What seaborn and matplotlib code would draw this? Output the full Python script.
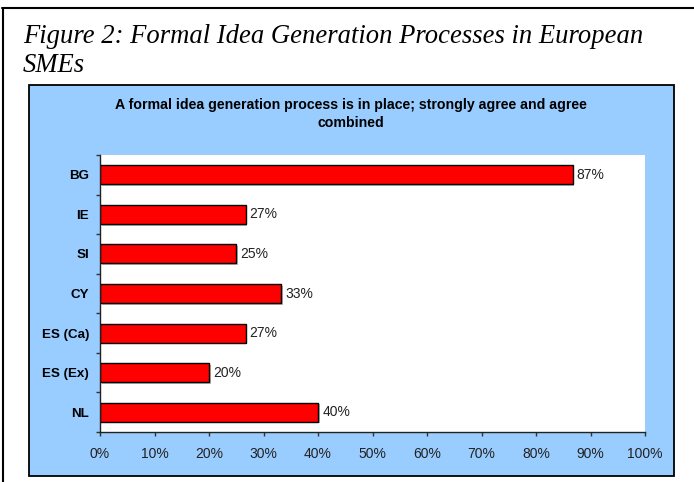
import matplotlib
matplotlib.use('Agg')
import matplotlib.pyplot as plt
import matplotlib.patheffects as pe
import seaborn as sns
import pandas as pd
from matplotlib.patches import Rectangle
from matplotlib.lines import Line2D
from matplotlib.ticker import FixedLocator

# ---- data ----
categories = ['BG', 'IE', 'SI', 'CY', 'ES (Ca)', 'ES (Ex)', 'NL']
values = [86.7, 26.7, 25.0, 33.3, 26.7, 20.0, 40.0]
x_ticks = [0, 10, 20, 30, 40, 50, 60, 70, 80, 90, 100]
x_tick_labels = [f"{t}%" for t in x_ticks]
value_labels = [f"{round(v)}%" for v in values]
fig_title_lines = ["Figure 2: Formal Idea Generation Processes in European", "SMEs"]
chart_title_lines = ["A formal idea generation process is in place; strongly agree and agree",
                     "combined"]

sns.set_theme(style='white')
plt.rcParams['font.family'] = ['Liberation Sans', 'DejaVu Sans']

W, H = 694, 482
fig = plt.figure(figsize=(6.94, 4.82), dpi=100)
fig.patch.set_facecolor('white')


def fx(x):
    return x / W


def fy(y):
    return 1 - y / H


# blue chart panel
fig.add_artist(Rectangle((fx(29), fy(476)), (674 - 29) / W, (476 - 85) / H,
                         facecolor='#99CCFF', edgecolor='black', linewidth=1.3,
                         transform=fig.transFigure, zorder=-2))
# outer frame (left and top)
fig.add_artist(Line2D([fx(2.5), fx(2.5)], [fy(8), 0], color='black', lw=1.5,
                      transform=fig.transFigure, zorder=-2))
fig.add_artist(Line2D([fx(2), 1], [fy(8), fy(8)], color='black', lw=1.5,
                      transform=fig.transFigure, zorder=-2))

# figure title
serif = ['Liberation Serif', 'DejaVu Serif']
fig.text(fx(23), fy(43), fig_title_lines[0], family=serif,
         style='italic', fontsize=19.2, ha='left', va='baseline', color='black')
fig.text(fx(23), fy(72), fig_title_lines[1], family=serif,
         style='italic', fontsize=19.2, ha='left', va='baseline', color='black')

# chart title
fig.text(fx(351), fy(105), chart_title_lines[0], fontsize=10.2, fontweight='bold',
         ha='center', va='center', color='black')
fig.text(fx(351), fy(123), chart_title_lines[1], fontsize=10.2, fontweight='bold',
         ha='center', va='center', color='black')

# plot area
ax = fig.add_axes([fx(100), fy(432), 545 / W, (432 - 155) / H])
ax.set_facecolor('white')
df = pd.DataFrame({'country': categories, 'value': values})
sns.barplot(data=df, x='value', y='country', orient='h', color='#FF0000',
            saturation=1, edgecolor='black', linewidth=1, width=0.48, ax=ax)

for bar in ax.containers[0]:
    bar.set_path_effects([pe.SimplePatchShadow(offset=(1.2, -1.2), shadow_rgbFace='#888888',
                                               alpha=0.6), pe.Normal()])

ax.bar_label(ax.containers[0], labels=value_labels, padding=3, fontsize=10, color='#222222')

ax.set_xlim(0, 100)
ax.set_ylim(len(categories) - 0.5, -0.5)
ax.set_xlabel('')
ax.set_ylabel('')

ax.set_xticks(x_ticks)
ax.set_xticklabels(x_tick_labels, fontsize=10, color='#222222')
ax.set_yticks(range(len(categories)))
ax.set_yticklabels(categories, fontsize=9.6, fontweight='bold', color='black')
ax.yaxis.set_minor_locator(FixedLocator([i - 0.5 for i in range(len(categories) + 1)]))

ax.tick_params(axis='x', which='major', bottom=True, direction='out', length=3,
               width=1, color='#333333', pad=7.5)
ax.tick_params(axis='y', which='major', left=True, length=0, pad=8)
ax.tick_params(axis='y', which='minor', left=True, direction='out', length=3,
               width=1, color='#333333')

for s in ['top', 'right']:
    ax.spines[s].set_visible(False)
for s in ['left', 'bottom']:
    ax.spines[s].set_visible(True)
    ax.spines[s].set_color('#222222')
    ax.spines[s].set_linewidth(1)
ax.grid(False)

fig.savefig('out.png', dpi=100)
